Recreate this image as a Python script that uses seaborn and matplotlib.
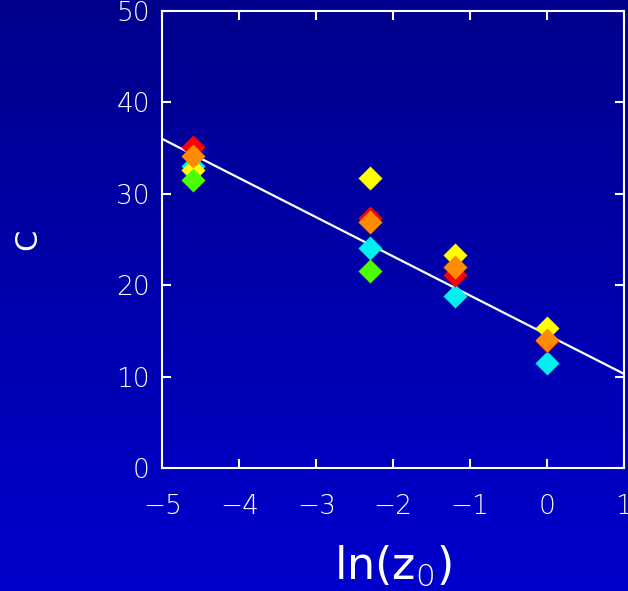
import numpy as np
import pandas as pd
import matplotlib
matplotlib.use("Agg")
import matplotlib.pyplot as plt
from matplotlib.colors import LinearSegmentedColormap
import seaborn as sns

# roughness length (ln z0) and C values per series
ln_z0 = [-4.6, -2.3, -1.2, 0.0]
c_cyan = [33.0, 24.1, 18.8, 11.5]
c_yellow = [32.6, 31.7, 23.3, 15.3]
c_red = [35.1, 27.3, 21.1, 13.9]
c_orange = [34.1, 26.9, 22.0, 14.0]
ln_z0_green = [-4.6, -2.3]
c_green = [31.5, 21.5]

series_colors = ["#00F0F0", "#FFFF00", "#FF0000", "#FF8C00", "#4CFF00"]

# fitted line
fit_x = [-5.0, 1.0]
fit_y = [36.0, 10.3]

x_ticks = [-5, -4, -3, -2, -1, 0, 1]
y_ticks = [0, 10, 20, 30, 40, 50]


frames = []
for name, vals in [("cyan", c_cyan), ("yellow", c_yellow),
                   ("red", c_red), ("orange", c_orange)]:
    frames.append(pd.DataFrame({"ln_z0": ln_z0, "C": vals, "series": name}))
frames.append(pd.DataFrame({"ln_z0": ln_z0_green, "C": c_green,
                            "series": "green"}))
df = pd.concat(frames, ignore_index=True)

plt.rcParams["font.family"] = ["DejaVu Sans"]
plt.rcParams["font.weight"] = "light"

fig = plt.figure(figsize=(6.28, 5.91), dpi=100)

# blue gradient background
bg = fig.add_axes([0, 0, 1, 1], zorder=-10)
bg_cmap = LinearSegmentedColormap.from_list("bg", ["#00008C", "#0000CD"])
bg.imshow(np.linspace(0, 1, 256).reshape(-1, 1), aspect="auto",
          cmap=bg_cmap, extent=[0, 1, 0, 1], origin="upper")
bg.axis("off")

ax = fig.add_axes([0.2585, 0.2081, 0.7351, 0.7733])
ax.set_facecolor("none")

sns.lineplot(x=fit_x, y=fit_y, color="white", linewidth=1.6, ax=ax,
             zorder=2)

for i, name in enumerate(["cyan", "yellow", "red", "orange", "green"]):
    sub = df[df["series"] == name]
    sns.scatterplot(data=sub, x="ln_z0", y="C", color=series_colors[i],
                    marker="D", s=150, linewidth=0, ax=ax, zorder=3 + i,
                    legend=False)

ax.set_xlim(-5, 1)
ax.set_ylim(0, 50)
ax.set_xticks(x_ticks)
ax.set_yticks(y_ticks)

for side in ["left", "right", "top", "bottom"]:
    ax.spines[side].set_color("white")
    ax.spines[side].set_linewidth(1.5)

ax.tick_params(direction="in", length=6.5, width=1.5, colors="white",
               top=True, right=True, labelsize=19)
ax.tick_params(axis="x", pad=19)
ax.tick_params(axis="y", pad=9)

ax.set_xlabel(r"ln(z$_0$)", color="white", fontsize=32, labelpad=17)
ax.set_ylabel("C", color="white", fontsize=22, labelpad=53)

fig.savefig("out.png", dpi=100)
plt.close(fig)
